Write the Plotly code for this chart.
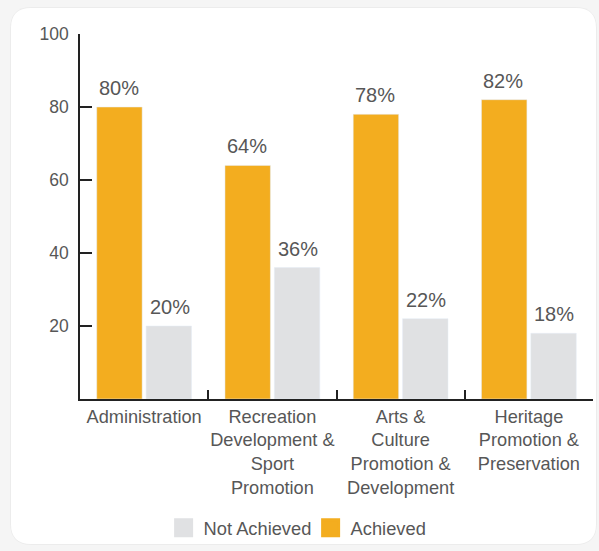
import plotly.graph_objects as go

categories = [
    "Administration",
    "Recreation<br>Development &<br>Sport<br>Promotion",
    "Arts &<br>Culture<br>Promotion &<br>Development",
    "Heritage<br>Promotion &<br>Preservation",
]
achieved = [80, 64, 78, 82]
not_achieved = [20, 36, 22, 18]
y_ticks = [20, 40, 60, 80, 100]

ORANGE = "#F3AD1F"
GRAY = "#E0E1E3"
TEXT = "#575757"
FONT = "Liberation Sans, Arial, sans-serif"

W, H = 599, 551
ML, MR, MT, MB = 80, 6, 34, 152
PW, PH = W - ML - MR, H - MT - MB


def px2paper(px, py):
    return (px - ML) / PW, (H - MB - py) / PH


def rounded_path(x0, y0, x1, y1, r):
    def P(x, y):
        a, b = px2paper(x, y)
        return f"{a:.5f},{b:.5f}"
    d = f"M {P(x0 + r, y0)} L {P(x1 - r, y0)} Q {P(x1, y0)} {P(x1, y0 + r)} "
    d += f"L {P(x1, y1 - r)} Q {P(x1, y1)} {P(x1 - r, y1)} "
    d += f"L {P(x0 + r, y1)} Q {P(x0, y1)} {P(x0, y1 - r)} "
    d += f"L {P(x0, y0 + r)} Q {P(x0, y0)} {P(x0 + r, y0)} Z"
    return d


fig = go.Figure()
fig.add_trace(go.Bar(
    name="Achieved", x=categories, y=achieved, marker_color=ORANGE,
    showlegend=False,
))
fig.add_trace(go.Bar(
    name="Not Achieved", x=categories, y=not_achieved, marker_color=GRAY,
    showlegend=False,
))
# legend entries
fig.add_trace(go.Scatter(
    name="Not Achieved", x=[None], y=[None], mode="markers",
    marker=dict(symbol="square", size=16, color=GRAY,
                line=dict(width=3, color=GRAY)),
))
fig.add_trace(go.Scatter(
    name="Achieved", x=[None], y=[None], mode="markers",
    marker=dict(symbol="square", size=16, color=ORANGE,
                line=dict(width=3, color=ORANGE)),
))

annotations = []
for series, shift in ((achieved, -25.5), (not_achieved, 25.5)):
    for c, v in zip(categories, series):
        annotations.append(dict(
            x=c, y=v, xref="x", yref="y", text=f"{v}%", showarrow=False,
            xshift=shift, yanchor="bottom", yshift=6,
            font=dict(size=20, color=TEXT, family=FONT),
        ))

shapes = [
    dict(type="path", xref="paper", yref="paper",
         path=rounded_path(10, 7, 597, 545, 22),
         fillcolor="#ececec", line=dict(width=0), layer="below"),
    dict(type="path", xref="paper", yref="paper",
         path=rounded_path(11, 8, 596, 544, 20),
         fillcolor="white", line=dict(width=0), layer="below"),
]

fig.update_layout(
    width=W, height=H,
    margin=dict(l=ML, r=MR, t=MT, b=MB, autoexpand=False),
    paper_bgcolor="#f5f5f5",
    plot_bgcolor="rgba(0,0,0,0)",
    font=dict(family=FONT, color=TEXT, size=18),
    barmode="group",
    bargap=0.23,
    bargroupgap=0.08,
    shapes=shapes,
    annotations=annotations,
    legend=dict(
        orientation="h", x=0.163, xanchor="left", y=-0.302, yanchor="top",
        font=dict(size=18.3, color=TEXT, family=FONT),
        bgcolor="rgba(0,0,0,0)", entrywidth=102,
    ),
    xaxis=dict(
        type="category", showline=True, linecolor="#222", linewidth=1.5,
        ticks="inside", ticklen=9, tickcolor="#222", tickwidth=1.5,
        tickson="boundaries", showgrid=False, zeroline=False,
        tickangle=0, automargin=False,
        tickfont=dict(size=18.2, color=TEXT, family=FONT),
    ),
    yaxis=dict(
        range=[0, 100], tickvals=y_ticks, showline=True, linecolor="#222",
        linewidth=1.5, ticks="inside", ticklen=12, tickcolor="#222",
        tickwidth=1.5, showgrid=False, zeroline=False,
        ticklabelstandoff=6, automargin=False,
        tickfont=dict(size=17.5, color=TEXT, family=FONT),
    ),
)

fig.write_html("out.html")
